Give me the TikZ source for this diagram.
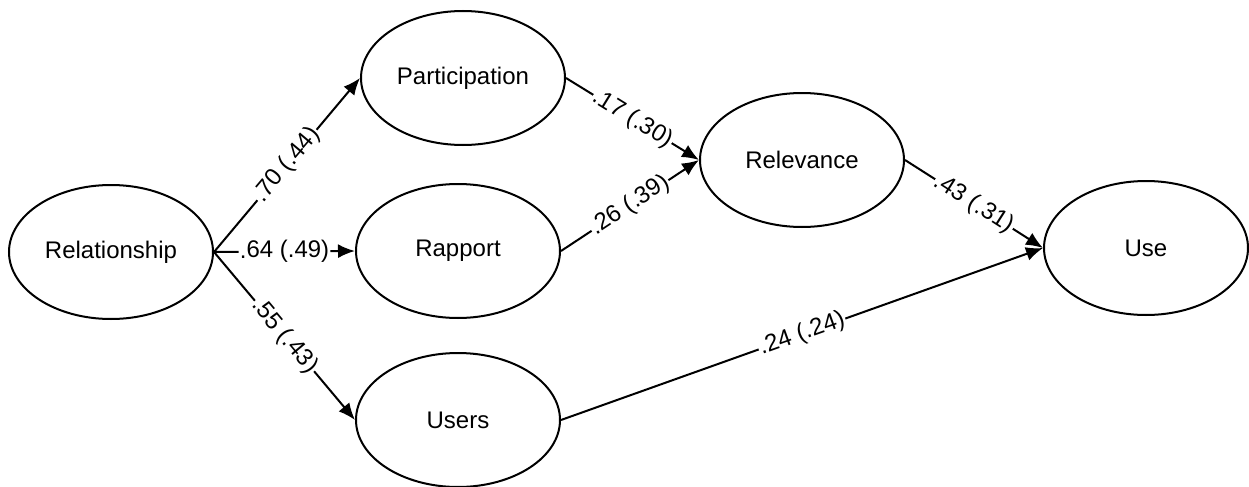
\documentclass[tikz,border=0pt]{standalone}
\usepackage{fontspec}
\setmainfont{Liberation Sans}
\usetikzlibrary{shapes.geometric,arrows.meta}

\begin{document}
\begin{tikzpicture}[x=0.5pt,y=-0.5pt,
   var/.style={ellipse, draw, line width=1pt, minimum width=102pt, minimum height=67pt,
      inner sep=0pt, font=\fontsize{12}{14}\selectfont},
   link/.style={line width=1pt, -{Latex[length=8.5pt,width=7pt]}},
   coef/.style={pos=0.5, sloped, fill=white, inner sep=0.6pt, font=\fontsize{12}{14}\selectfont}]%
   \useasboundingbox (0,0) rectangle (1249,487);
   \node[var] (rel) at (111,252) {Relationship};
   \node[var] (par) at (463,78) {Participation};
   \node[var] (rap) at (458,251) {Rapport};
   \node[var] (usr) at (458,420) {Users};
   \node[var] (rlv) at (802,160) {Relevance};
   \node[var] (use) at (1146,248) {Use};
   \draw[link] (rel.east) -- (par.west) node[coef] {.70 (.44)};
   \draw[link] (rel.east) -- (rap.west) node[coef] {.64 (.49)};
   \draw[link] (rel.east) -- (usr.west) node[coef] {.55 (.43)};
   \draw[link] (par.east) -- (rlv.west) node[coef] {.17 (.30)};
   \draw[link] (rap.east) -- (rlv.west) node[coef] {.26 (.39)};
   \draw[link] (rlv.east) -- (use.west) node[coef] {.43 (.31)};
   \draw[link] (usr.east) -- (use.west) node[coef] {.24 (.24)};
\end{tikzpicture}
\end{document}
